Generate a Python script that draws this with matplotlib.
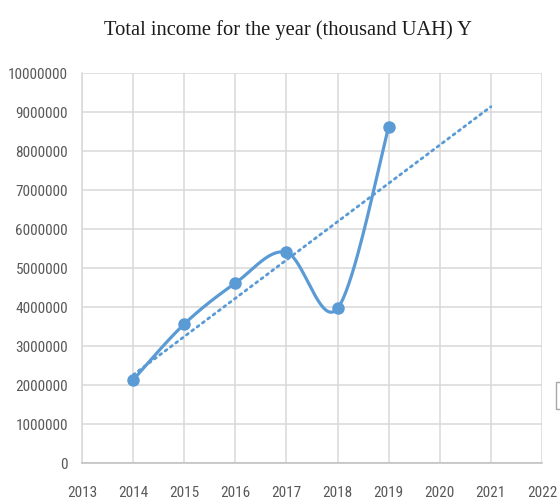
import numpy as np
import matplotlib
matplotlib.use('Agg')
import matplotlib.pyplot as plt
from matplotlib.patches import Rectangle

# data
years = [2014, 2015, 2016, 2017, 2018, 2019]
income = [2140000, 3570000, 4620000, 5410000, 3970000, 8620000]
trend_years = [2014, 2021]
x_ticks = list(range(2013, 2023))
y_ticks = list(range(0, 10000001, 1000000))

blue = '#5B9BD5'
grid_c = '#D9D9D9'
label_c = '#595959'
tick_fonts = ['Roboto Condensed', 'Liberation Sans Narrow', 'Open Sans Condensed',
              'Liberation Sans', 'DejaVu Sans']


def smooth(xs, ys, n=40):
    # excel style smoothed line: cubic bezier with catmull-rom control points
    px = [xs[0]] + list(xs) + [xs[-1]]
    py = [ys[0]] + list(ys) + [ys[-1]]
    out_x, out_y = [], []
    t = np.linspace(0, 1, n)
    for i in range(1, len(px) - 2):
        x0, x1, x2, x3 = px[i - 1], px[i], px[i + 1], px[i + 2]
        y0, y1, y2, y3 = py[i - 1], py[i], py[i + 1], py[i + 2]
        cx1, cy1 = x1 + (x2 - x0) / 6, y1 + (y2 - y0) / 6
        cx2, cy2 = x2 - (x3 - x1) / 6, y2 - (y3 - y1) / 6
        bx = (1-t)**3*x1 + 3*(1-t)**2*t*cx1 + 3*(1-t)*t**2*cx2 + t**3*x2
        by = (1-t)**3*y1 + 3*(1-t)**2*t*cy1 + 3*(1-t)*t**2*cy2 + t**3*y2
        out_x.extend(bx)
        out_y.extend(by)
    return np.array(out_x), np.array(out_y)


fig = plt.figure(figsize=(5.6, 5.0), dpi=100)
ax = fig.add_axes([0.1464, 0.0734, 0.8214, 0.78])

sx, sy = smooth(years, income)
ax.plot(sx, sy, color=blue, lw=2.3, solid_capstyle='round', zorder=3)
ax.plot(years, income, 'o', color=blue, ms=8, zorder=4)

# linear trendline
k, b = np.polyfit(years, income, 1)
tx = np.linspace(trend_years[0], trend_years[1], 50)
ax.plot(tx, k * tx + b, color=blue, lw=2.0, linestyle=(0, (0.8, 1.6)),
        dash_capstyle='round', zorder=5)

ax.set_xlim(2013, 2022)
ax.set_ylim(0, 10000000)
ax.set_xticks(x_ticks)
ax.set_yticks(y_ticks)
ax.set_xticklabels([str(v) for v in x_ticks])
ax.set_yticklabels([str(v) for v in y_ticks])
ax.grid(True, color=grid_c, lw=1.1)
ax.set_axisbelow(True)
for s in ['top', 'right']:
    ax.spines[s].set_visible(False)
ax.spines['left'].set_color(grid_c)
ax.spines['bottom'].set_color('#BFBFBF')
ax.spines['left'].set_linewidth(1.1)
ax.spines['bottom'].set_linewidth(1.1)
ax.tick_params(length=0, colors=label_c, labelsize=11)
ax.tick_params(axis='x', pad=16)
ax.tick_params(axis='y', pad=10)
for lab in ax.get_xticklabels() + ax.get_yticklabels():
    lab.set_family(tick_fonts)

fig.text(0.514, 0.94, 'Total income for the year (thousand UAH) Y',
         ha='center', va='center', fontsize=14.8,
         family=['Liberation Serif', 'DejaVu Serif'], color='#1a1a1a')

# bit of legend box cut off at the right edge
fig.patches.append(Rectangle((556 / 560, 0.182), 0.05, 0.054,
                             transform=fig.transFigure, fill=False,
                             edgecolor='#A6A6A6', lw=1.0))

fig.savefig('out.png', dpi=100)
